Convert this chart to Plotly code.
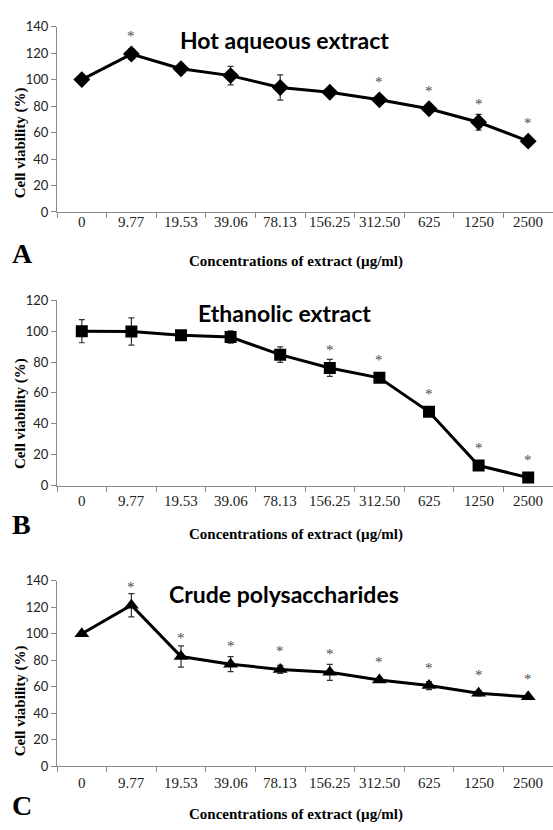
import plotly.graph_objects as go

# concentrations (µg/ml)
conc = ["0", "9.77", "19.53", "39.06", "78.13", "156.25", "312.50", "625", "1250", "2500"]

# A: hot aqueous extract
hot_mean = [100, 119.3, 108.2, 103, 94, 90.4, 84.7, 78, 67.8, 53.5]
hot_err = [1, 4, 2.5, 7, 9.5, 1, 1, 1.5, 6, 1]
hot_sig = [False, True, False, False, False, False, True, True, True, True]

# B: ethanolic extract
eth_mean = [100, 99.8, 97.4, 96.2, 84.8, 76.2, 69.8, 47.8, 13, 5.2]
eth_err = [7.5, 8.8, 1.5, 4, 5, 5.5, 1, 1, 1, 1]
eth_sig = [False, False, False, False, False, True, True, True, True, True]

# C: crude polysaccharides
poly_mean = [100, 121.5, 82.8, 77, 73, 70.8, 65, 60.8, 55, 52.3]
poly_err = [1, 8.8, 8, 5.7, 3, 6, 1.5, 3, 2, 1]
poly_sig = [False, True, True, True, True, True, True, True, True, True]

panels = [
    dict(name="Hot aqueous extract", mean=hot_mean, err=hot_err, sig=hot_sig,
         symbol="diamond", size=13, ymax=140, dom=(19, 208), title_y=33, letter="A",
         letter_y=250, tick_y=218, xt_y=258, yt_y=138),
    dict(name="Ethanolic extract", mean=eth_mean, err=eth_err, sig=eth_sig,
         symbol="square", size=12, ymax=120, dom=(298, 487), title_y=311, letter="B",
         letter_y=527, tick_y=503, xt_y=537, yt_y=414),
    dict(name="Crude polysaccharides", mean=poly_mean, err=poly_err, sig=poly_sig,
         symbol="triangle-up", size=13, ymax=140, dom=(584, 773), title_y=598, letter="C",
         letter_y=813, tick_y=790, xt_y=822, yt_y=707),
]

W, H = 553, 830
AXIS = "#8a8a8a"
SERIF = "Liberation Serif"
SANS = "Lato"

fig = go.Figure()
annotations = []

for i, p in enumerate(panels):
    n = "" if i == 0 else str(i + 1)
    xa, ya = "x" + n, "y" + n
    fig.add_trace(go.Scatter(
        x=conc, y=p["mean"], xaxis=xa, yaxis=ya, mode="lines+markers",
        line=dict(color="black", width=3),
        marker=dict(symbol=p["symbol"], size=p["size"], color="black"),
        error_y=dict(type="data", array=p["err"], color="#333333", thickness=1.2, width=3),
        showlegend=False,
    ))
    top, bot = p["dom"]
    fig.layout["xaxis" + n] = dict(
        domain=[57 / W, 1], anchor=ya, type="category", range=[-0.5, 9.5],
        showline=True, linecolor=AXIS, linewidth=1,
        ticks="outside", tickson="boundaries", ticklen=5, tickcolor=AXIS,
        showticklabels=False, showgrid=False, zeroline=False,
    )
    fig.layout["yaxis" + n] = dict(
        domain=[1 - bot / H, 1 - top / H], anchor=xa, range=[0, p["ymax"]],
        dtick=20, showline=True, linecolor=AXIS, linewidth=1,
        ticks="outside", ticklen=5, tickcolor=AXIS,
        tickfont=dict(family=SANS, size=13, color="#222222"),
        showgrid=False, zeroline=False,
    )
    # category labels (serif) under the axis; category axes take the index
    for j, c in enumerate(conc):
        annotations.append(dict(x=j, y=1 - p["tick_y"] / H, xref=xa, yref="paper",
                                text=c, showarrow=False, yanchor="middle",
                                font=dict(family=SERIF, size=15, color="#222222")))
    # significance asterisks
    for j, (v, s) in enumerate(zip(p["mean"], p["sig"])):
        if s:
            annotations.append(dict(x=j, y=v, xref=xa, yref=ya, text="*", showarrow=False,
                                    yanchor="middle", yshift=18,
                                    font=dict(family=SERIF, size=15, color="#4a4a4a")))
    # panel title
    annotations.append(dict(x=284 / W, y=1 - p["title_y"] / H, xref="paper", yref="paper",
                            text="<b>" + p["name"] + "</b>", showarrow=False,
                            xanchor="center", yanchor="middle",
                            font=dict(family=SANS, size=23, color="black")))
    # panel letter
    annotations.append(dict(x=10 / W, y=1 - p["letter_y"] / H, xref="paper", yref="paper",
                            text="<b>" + p["letter"] + "</b>", showarrow=False,
                            xanchor="left", yanchor="middle",
                            font=dict(family=SERIF, size=28, color="black")))
    # axis titles
    annotations.append(dict(x=296 / W, y=1 - p["xt_y"] / H, xref="paper", yref="paper",
                            text="<b>Concentrations of extract (µg/ml)</b>", showarrow=False,
                            xanchor="center", yanchor="middle",
                            font=dict(family=SERIF, size=15, color="black")))
    annotations.append(dict(x=20 / W, y=1 - p["yt_y"] / H, xref="paper", yref="paper",
                            text="<b>Cell viability (%)</b>", showarrow=False, textangle=-90,
                            xanchor="center", yanchor="middle",
                            font=dict(family=SERIF, size=15, color="black")))

fig.update_layout(
    width=W, height=H, margin=dict(l=0, r=0, t=0, b=0),
    paper_bgcolor="white", plot_bgcolor="white",
    annotations=annotations,
)

# drop the default page margin so the figure sits flush in the window
fig.write_html("out.html", config={"displayModeBar": False},
               post_script="document.body.style.margin='0';document.body.style.overflow='hidden';")
